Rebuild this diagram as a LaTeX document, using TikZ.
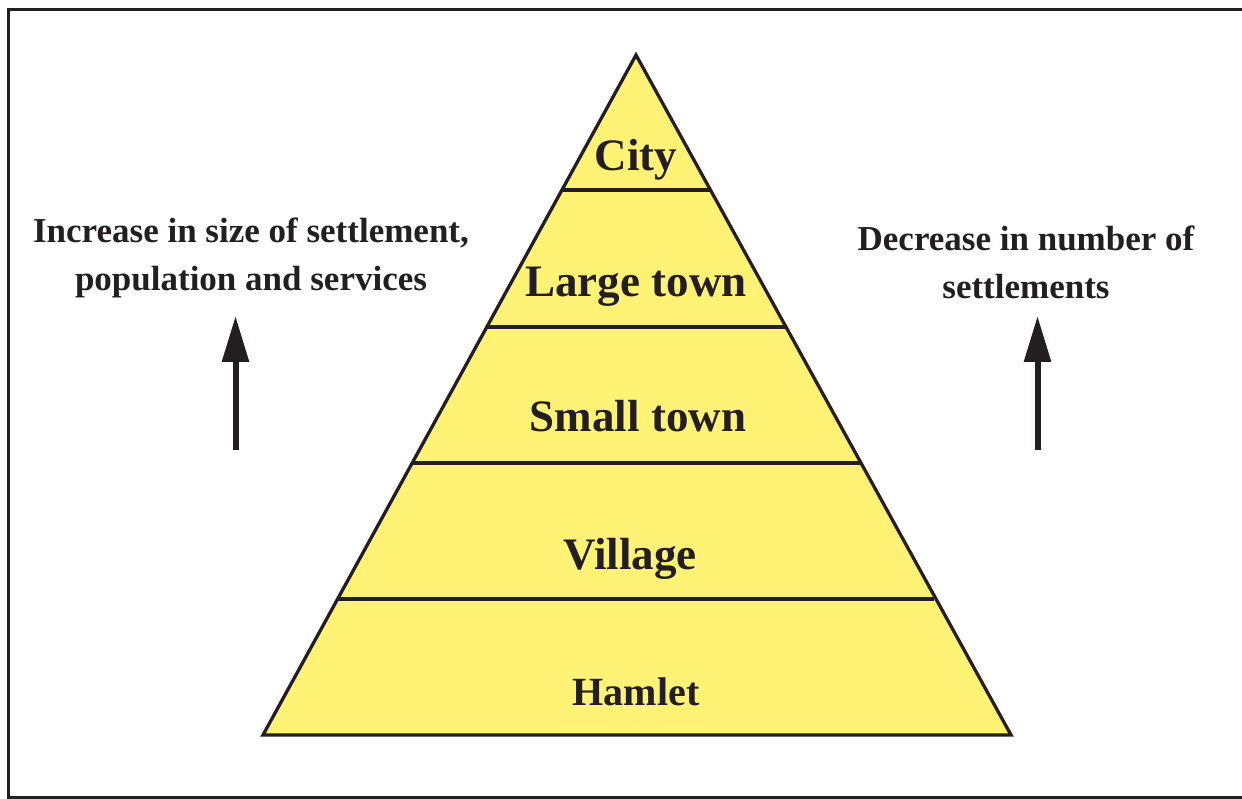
\documentclass[tikz,border=0pt]{standalone}
\usepackage{fontspec}
\setmainfont{Liberation Serif}
\usetikzlibrary{arrows.meta}
\definecolor{ink}{HTML}{231F20}
\definecolor{pyr}{HTML}{FFF275}
\begin{document}
\begin{tikzpicture}[x=1pt,y=-1pt,
  level/.style={font=\bfseries\fontsize{45}{50}\selectfont, text=ink, anchor=base, inner sep=0pt},
  side/.style={font=\bfseries\fontsize{35}{48}\selectfont, text=ink, align=center, inner sep=0pt},
  uparrow/.style={draw=ink, line width=6pt, -{Triangle[length=46pt,width=26pt]}}]
\useasboundingbox (0,0) rectangle (1242,799);
% frame
\draw[ink, line width=3pt] (1243,10) -- (8.5,10) -- (8.5,797) -- (1243,797);
% pyramid
\coordinate (apex) at (636,55);
\coordinate (bl) at (263,735);
\coordinate (br) at (1011,735);
\fill[pyr] (apex) -- (br) -- (bl) -- cycle;
\foreach \y in {190,327,463,599}{
  \pgfmathsetmacro{\dx}{0.54853*(\y-55)}
  \draw[ink, line width=3.3pt] ({636-\dx},\y) -- ({636+\dx},\y);
}
\draw[ink, line width=3.3pt, line join=miter] (apex) -- (br) -- (bl) -- cycle;
% labels
\node[level] (city) at (636,171) {City};
\node[level] (large) at (636,297) {Large town};
\node[level] (small) at (638,431) {Small town};
\node[level] (village) at (630,569) {Village};
\node[level, font=\bfseries\fontsize{40}{44}\selectfont] (hamlet) at (636,705) {Hamlet};
% side texts
\node[side] (lefttxt) at (251,258) {Increase in size of settlement,\\population and services};
\node[side] (righttxt) at (1026,262) {Decrease in number of\\settlements};
% arrows
\coordinate (la0) at (235.5,450);
\coordinate (la1) at (235.5,316);
\coordinate (ra0) at (1037.5,450);
\coordinate (ra1) at (1037.5,316);
\draw[uparrow] (la0) -- (la1);
\draw[uparrow] (ra0) -- (ra1);
\end{tikzpicture}
\end{document}
